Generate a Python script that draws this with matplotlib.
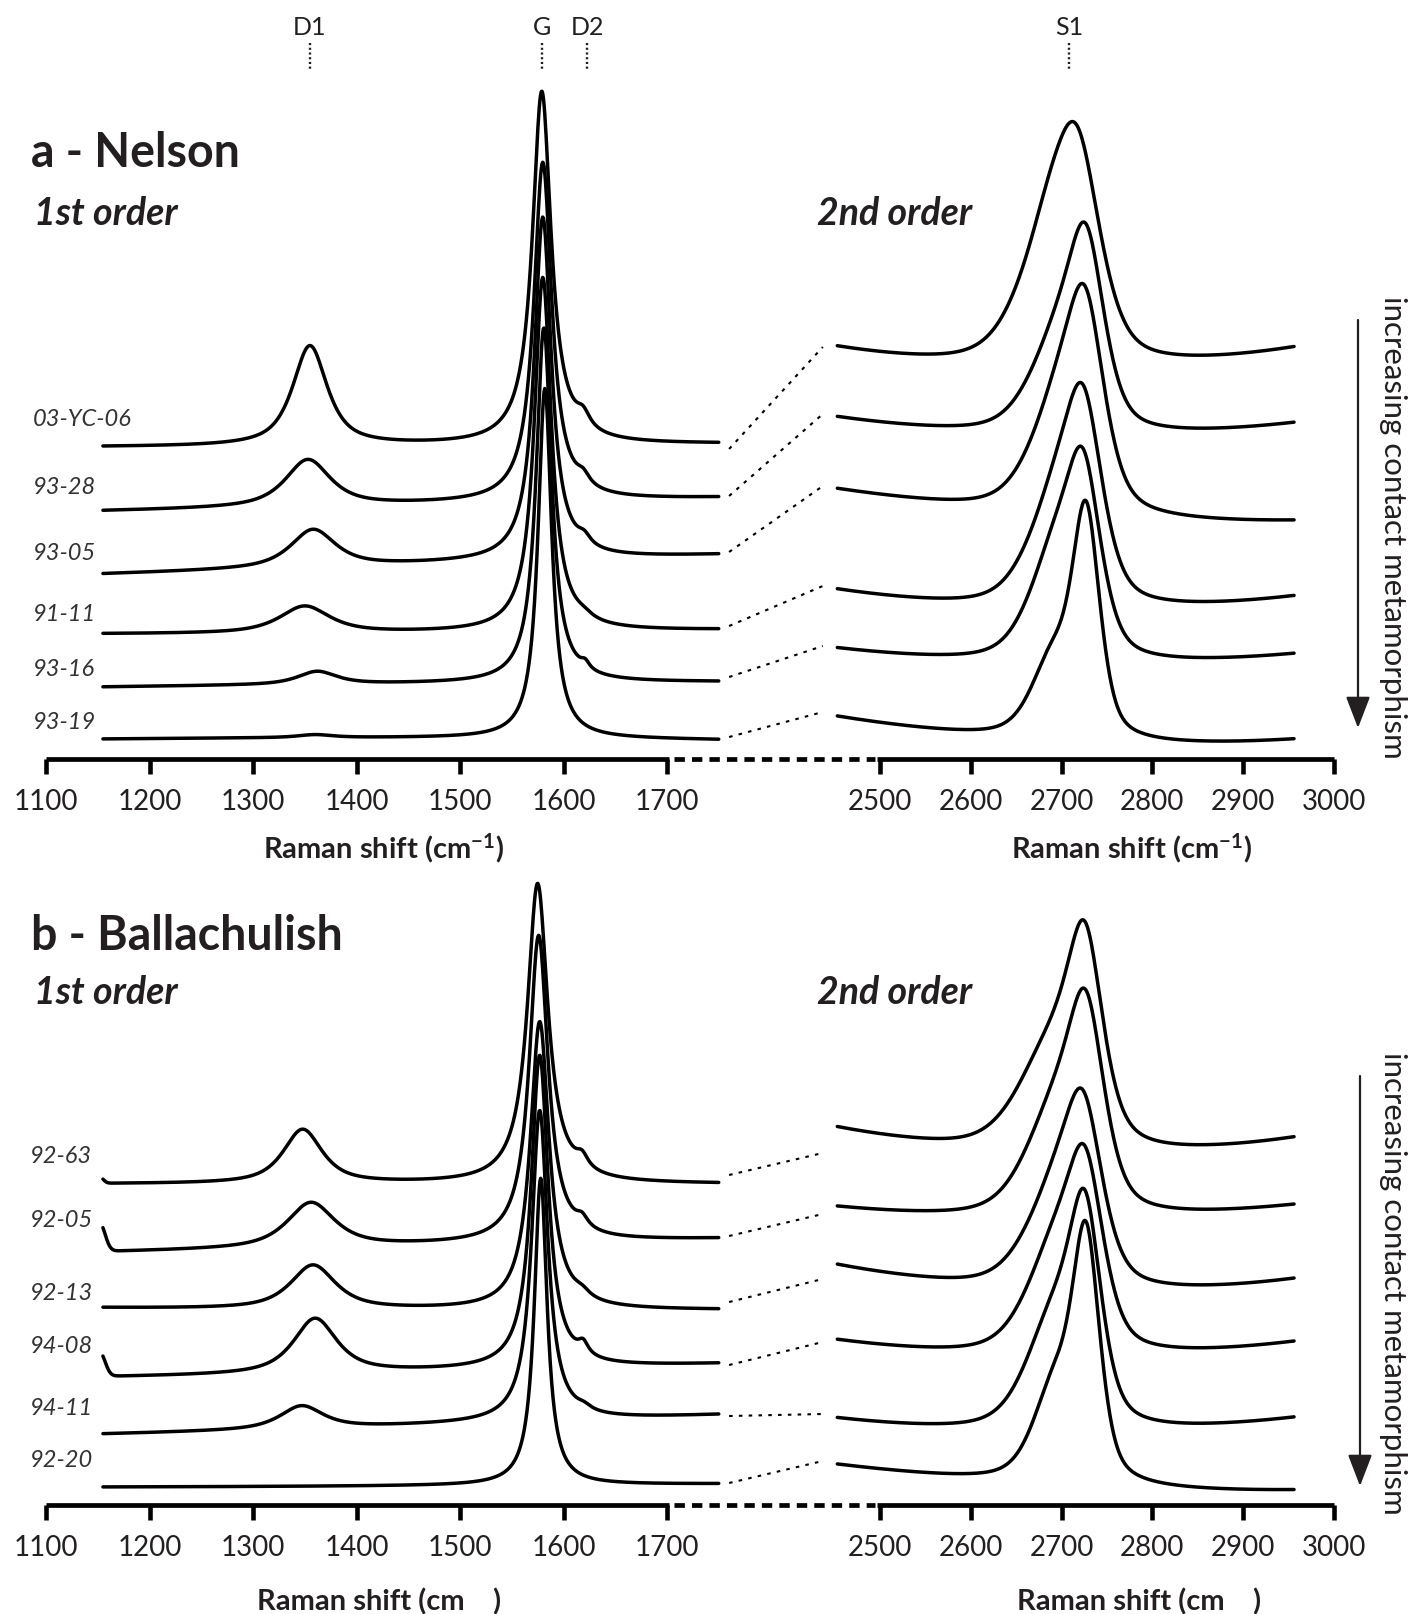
import numpy as np
import matplotlib
matplotlib.use("Agg")
import matplotlib.pyplot as plt
from matplotlib.ticker import FixedLocator, NullLocator
from matplotlib.patches import FancyArrowPatch

plt.rcParams['font.family'] = ['Lato', 'DejaVu Sans']
plt.rcParams['mathtext.fontset'] = 'custom'
plt.rcParams['mathtext.rm'] = 'Lato'
plt.rcParams['mathtext.bf'] = 'Lato:bold'
plt.rcParams['mathtext.it'] = 'Lato:italic'

INK = '#231f20'

# ---------------------------------------------------------------- data
ticks_first = [1100, 1200, 1300, 1400, 1500, 1600, 1700]
ticks_second = [2500, 2600, 2700, 2800, 2900, 3000]

band_names = ['D1', 'G', 'D2', 'S1']
band_pos = [1355, 1579, 1623, 2708]

FIRST_KNOTS = [1160, 1450, 1750]          # cm-1, baseline read points
SECOND_KNOTS = [2455, 2560, 2850, 2955]
FIRST_RANGE = (1155, 1750)
SECOND_RANGE = (2453, 2956)
LINK_X = (1760, 2437)

# ---- panel a : Nelson (intensity offsets in arbitrary units)
a_labels = ['03-YC-06', '93-28', '93-05', '91-11', '93-16', '93-19']
a_base1 = [[312, 313, 315], [248, 254, 261], [185, 194, 204],
           [125, 126, 129], [72, 75, 77], [20, 21, 19]]
a_D1 = [(1355, 100, 40), (1353, 47, 52), (1358, 38, 52),
        (1350, 27, 58), (1362, 13, 45), (1360, 3, 40)]
a_G = [(1579, 353, 22), (1580, 339, 21), (1580, 343, 20),
       (1580, 354, 20), (1581, 355, 18), (1582, 350, 16)]
a_D2 = [(1619, 14, 16), (1619, 10, 15), (1620, 9, 15),
        (1620, 4, 20), (1621, 7, 10), (1620, 0, 10)]
a_edge = [(1152, 0, 12)] * 6
a_base2 = [[410, 397, 396, 410], [341, 329, 326, 335], [270, 253, 239, 236],
           [170, 153, 155, 160], [111, 98, 99, 103], [43, 26, 17, 18]]
a_S1A = [(2685, 115, 80), (2692, 80, 70), (2692, 90, 70),
         (2690, 90, 70), (2690, 95, 65), (2690, 75, 55)]
a_S1B = [(2718, 172, 60), (2727, 173, 48), (2726, 185, 50),
         (2724, 179, 50), (2724, 171, 46), (2727, 218, 36)]
a_links = [(310, 412), (263, 345), (207, 273), (133, 173), (82, 113), (22, 47)]

# ---- panel b : Ballachulish
b_labels = ['92-63', '92-05', '92-13', '94-08', '94-11', '92-20']
b_base1 = [[321, 321, 321], [253, 259, 266], [197, 195, 195],
           [128, 133, 141], [71, 79, 90], [18, 19, 21]]
b_D1 = [(1348, 54, 45), (1356, 45, 55), (1358, 44, 52),
        (1360, 55, 50), (1347, 23, 50), (1350, 0, 40)]
b_G = [(1575, 300, 24), (1576, 307, 22), (1577, 288, 22),
       (1577, 313, 20), (1577, 311, 19), (1578, 307, 15)]
b_D2 = [(1618, 12, 14), (1618, 10, 14), (1618, 6, 18),
        (1619, 12, 12), (1620, 4, 16), (1620, 0, 10)]
b_edge = [(1152, 6, 8), (1152, 28, 12), (1152, 0, 12),
          (1152, 24, 12), (1152, 0, 12), (1152, 0, 12)]
b_base2 = [[377, 358, 356, 365], [297, 289, 290, 299], [240, 221, 217, 224],
           [165, 151, 154, 161], [87, 74, 79, 85], [42, 25, 18, 12]]
b_S1A = [(2688, 100, 85), (2690, 95, 75), (2690, 85, 75),
         (2690, 95, 72), (2690, 105, 70), (2692, 90, 55)]
b_S1B = [(2726, 177, 46), (2727, 181, 48), (2724, 155, 50),
         (2726, 164, 48), (2726, 192, 42), (2727, 234, 36)]
b_links = [(330, 352), (269, 291), (203, 226), (140, 163), (89, 91), (22, 44)]

# ---------------------------------------------------------------- helpers
W, H, DPI = 1428, 1615, 100


def pv(x, p, eta):
    pos, h, w = p
    L = 1.0 / (1.0 + ((x - pos) / (w / 2.0)) ** 2)
    G = np.exp(-4 * np.log(2) * ((x - pos) / w) ** 2)
    return h * (eta * L + (1 - eta) * G)


def smooth_base(x, knots, vals):
    coef = np.polyfit(knots, vals, 2)
    return np.polyval(coef, x)


# broken axis as a piecewise-linear function scale
XP = [0, 1100, 1760, 2437, 3000, 6000]
UP = [46 - 1100 * 1.035, 46, 46 + 660 * 1.035, 880 - 63 * 0.908, 1334,
      1334 + 3000 * 0.908]


def fwd(x):
    return np.interp(x, XP, UP)


def inv(u):
    return np.interp(u, UP, XP)


fig = plt.figure(figsize=(W / DPI, H / DPI), dpi=DPI)

LW = 2.5


def make_panel(axis_y, ymax):
    rect = [0, (H - axis_y) / H, 1, ymax / H]
    ax = fig.add_axes(rect)
    ax.set_xscale('function', functions=(fwd, inv))
    ax.set_xlim(inv(0), inv(W))
    ax.set_ylim(0, ymax)
    for s in ax.spines.values():
        s.set_visible(False)
    ax.set_yticks([])
    ticks = ticks_first + ticks_second
    ax.xaxis.set_major_locator(FixedLocator(ticks))
    ax.xaxis.set_minor_locator(NullLocator())
    ax.set_xticks(ticks, [str(t) for t in ticks])
    ax.tick_params(axis='x', direction='out', length=10.5, width=3.3,
                   color='black', pad=10.5, labelsize=20, labelcolor=INK)
    ax.patch.set_visible(False)
    ax.plot([ticks_first[0], 1702], [0, 0], color='k', lw=3.4,
            solid_capstyle='butt', clip_on=False)
    ax.plot([1707, 2494], [0, 0], color='k', lw=3.4, ls=(0, (2.2, 1.5)),
            dash_capstyle='butt', clip_on=False)
    ax.plot([2497, ticks_second[-1]], [0, 0], color='k', lw=3.4,
            solid_capstyle='butt', clip_on=False)
    return ax


def draw_spectra(ax, base1, d1, g, d2, edge, base2, s1a, s1b, links):
    x1 = np.linspace(FIRST_RANGE[0], FIRST_RANGE[1], 900)
    x2 = np.linspace(SECOND_RANGE[0], SECOND_RANGE[1], 700)
    for i in range(len(base1)):
        y1 = (smooth_base(x1, FIRST_KNOTS, base1[i]) + pv(x1, d1[i], 0.8)
              + pv(x1, g[i], 1.0) + pv(x1, d2[i], 1.0) + pv(x1, edge[i], 0.0))
        ax.plot(x1, y1, color='k', lw=LW, solid_joinstyle='round',
                solid_capstyle='round', clip_on=False, zorder=3)
        y2 = (smooth_base(x2, SECOND_KNOTS, base2[i]) + pv(x2, s1a[i], 0.5)
              + pv(x2, s1b[i], 0.5))
        ax.plot(x2, y2, color='k', lw=LW, solid_joinstyle='round',
                solid_capstyle='round', clip_on=False, zorder=3)
        ax.plot(LINK_X, links[i], color='k', lw=1.5, ls=(0, (1.7, 3.0)),
                clip_on=False)


ax_a = make_panel(760, 760)
draw_spectra(ax_a, a_base1, a_D1, a_G, a_D2, a_edge, a_base2, a_S1A, a_S1B, a_links)
ax_b = make_panel(1506, 720)
draw_spectra(ax_b, b_base1, b_D1, b_G, b_D2, b_edge, b_base2, b_S1A, b_S1B, b_links)

# band markers on top of panel a
for name, pos in zip(band_names, band_pos):
    ax_a.plot([pos, pos], [716, 688], color=INK, lw=1.7, ls=(0, (0.9, 1.1)),
              clip_on=False)
    ax_a.text(pos, 725, name, ha='center', va='baseline', fontsize=18,
              color=INK, fontweight='normal')

# ---------------------------------------------------------------- overlay text
ov = fig.add_axes([0, 0, 1, 1])
ov.set_xlim(0, W)
ov.set_ylim(H, 0)
ov.axis('off')
ov.patch.set_visible(False)

ov.text(31, 167, 'a - Nelson', fontsize=33.5, fontweight='bold', color=INK,
        va='baseline', ha='left')
ov.text(31, 950, 'b - Ballachulish', fontsize=33.5, fontweight='bold', color=INK,
        va='baseline', ha='left')
for yb in (225, 1004):
    ov.text(34, yb, '1st order', fontsize=27, fontweight='bold', style='italic',
            color=INK, va='baseline', ha='left')
    ov.text(817, yb, '2nd order', fontsize=27, fontweight='bold', style='italic',
            color=INK, va='baseline', ha='left')

a_label_y = [420, 488, 554, 615, 670, 723]
b_label_y = [1157, 1221, 1294, 1347, 1409, 1461]
for lab, yy in zip(a_labels, a_label_y):
    ov.text(33, yy, lab, fontsize=17, style='italic', color='#333333',
            va='center', ha='left')
for lab, yy in zip(b_labels, b_label_y):
    ov.text(30, yy, lab, fontsize=17, style='italic', color='#333333',
            va='center', ha='left')

xlab_a = r'Raman shift (cm$^{\mathbf{-1}}$)'
xlab_b = 'Raman shift (cm    )'
ov.text(384, 858, xlab_a, fontsize=21, fontweight='bold', color=INK,
        ha='center', va='baseline')
ov.text(1132, 858, xlab_a, fontsize=21, fontweight='bold', color=INK,
        ha='center', va='baseline')
ov.text(379, 1610, xlab_b, fontsize=21, fontweight='bold', color=INK,
        ha='center', va='baseline')
ov.text(1139, 1610, xlab_b, fontsize=21, fontweight='bold', color=INK,
        ha='center', va='baseline')

arrow_txt = 'increasing contact metamorphism'
for (xa, y0, y1, yc) in [(1358, 321, 729, 527), (1360, 1077, 1487, 1283)]:
    arr = FancyArrowPatch((xa, y0), (xa, y1), arrowstyle='-|>,head_length=1.95,head_width=0.75',
                          mutation_scale=10, color=INK, lw=1.6,
                          shrinkA=0, shrinkB=0)
    ov.add_patch(arr)
    ov.text(1393, yc, arrow_txt, rotation=-90, fontsize=22.5, color=INK,
            fontweight='normal', ha='center', va='center')

fig.savefig('out.png', dpi=DPI)
